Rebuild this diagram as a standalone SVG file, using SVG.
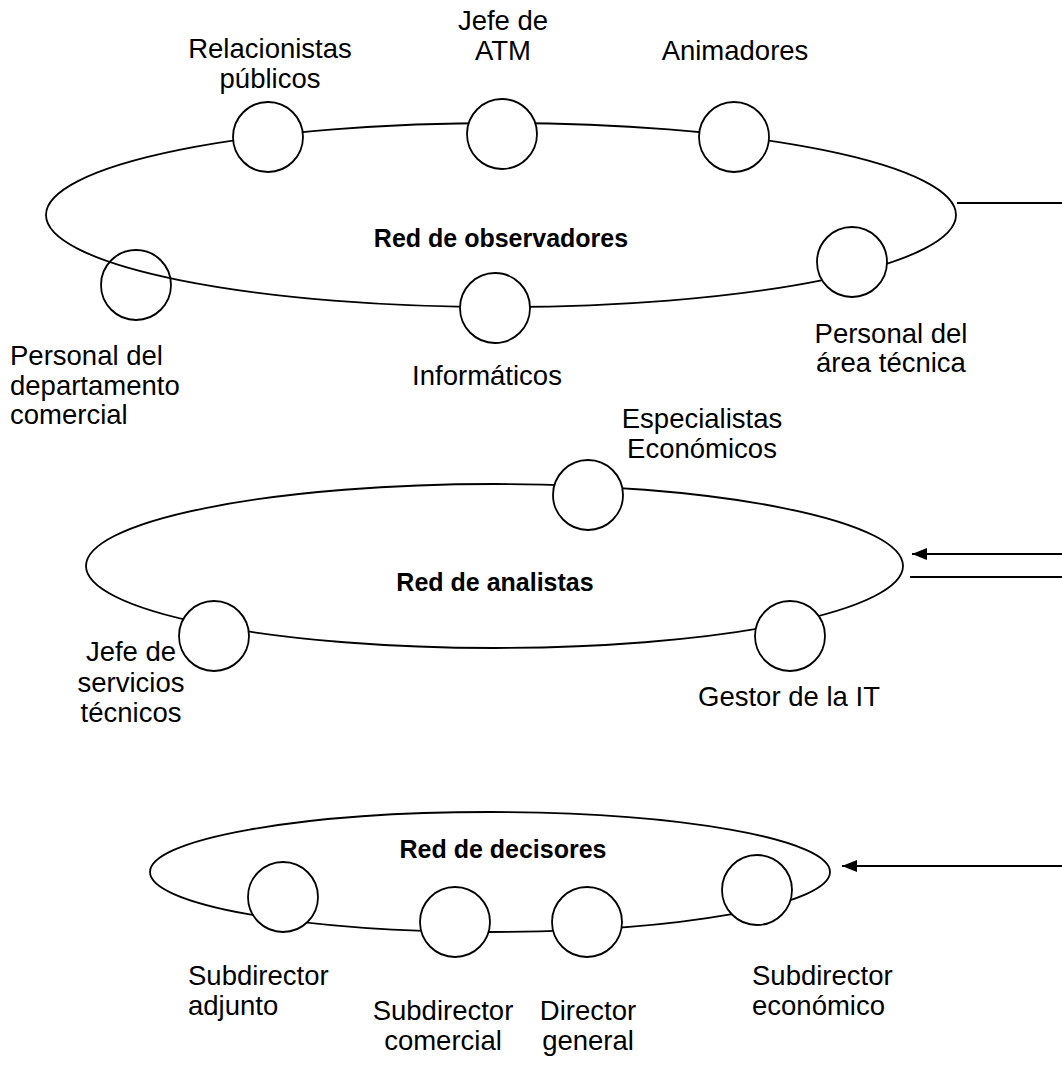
<svg xmlns="http://www.w3.org/2000/svg" width="1062" height="1070" viewBox="0 0 1062 1070">
  <style>
    .ring { fill: none; stroke: #000; stroke-width: 1.8; }
    .node { fill: #fff; stroke: #000; stroke-width: 1.8; }
    .open { fill: none; stroke: #000; stroke-width: 1.8; }
    .lbl { font-family: "Liberation Sans", Arial, sans-serif; font-size: 27.5px; fill: #000; }
    .mid { text-anchor: middle; }
    .title { font-family: "Liberation Sans", Arial, sans-serif; font-size: 25px; font-weight: bold; fill: #000; text-anchor: middle; }
    .link { fill: none; stroke: #000; stroke-width: 1.8; }
  </style>
  <defs>
    <marker id="arrow" viewBox="0 0 15 12" refX="15" refY="6" markerWidth="15" markerHeight="12" markerUnits="userSpaceOnUse" orient="auto">
      <path d="M0,0 L15,6 L0,12 z" fill="#000"/>
    </marker>
  </defs>
  <rect width="1062" height="1070" fill="#fff"/>

  <!-- observer network -->
  <g id="red-observadores">
    <ellipse class="ring" cx="501" cy="215" rx="455" ry="92"/>
    <text class="title" x="501" y="247">Red de observadores</text>
  </g>
  <g id="relacionistas">
    <circle class="node" cx="268" cy="137" r="35"/>
    <text class="lbl mid" x="270" y="58">Relacionistas</text>
    <text class="lbl mid" x="270" y="88">públicos</text>
  </g>
  <g id="jefe-atm">
    <circle class="node" cx="502" cy="134" r="35"/>
    <text class="lbl mid" x="503" y="30">Jefe de</text>
    <text class="lbl mid" x="503" y="60">ATM</text>
  </g>
  <g id="animadores">
    <circle class="node" cx="734" cy="137" r="35"/>
    <text class="lbl mid" x="735" y="60">Animadores</text>
  </g>
  <g id="area-tecnica">
    <circle class="node" cx="852" cy="262" r="35"/>
    <text class="lbl mid" x="891" y="343">Personal del</text>
    <text class="lbl mid" x="891" y="372">área técnica</text>
  </g>
  <g id="informaticos">
    <circle class="node" cx="495" cy="308" r="35"/>
    <text class="lbl mid" x="487" y="385">Informáticos</text>
  </g>
  <g id="dep-comercial">
    <circle class="open" cx="136" cy="285" r="35"/>
    <text class="lbl" x="10" y="365">Personal del</text>
    <text class="lbl" x="10" y="395">departamento</text>
    <text class="lbl" x="10" y="424">comercial</text>
  </g>

  <!-- analyst network -->
  <g id="red-analistas">
    <ellipse class="ring" cx="494.5" cy="566" rx="408.5" ry="82"/>
    <text class="title" x="495" y="591">Red de analistas</text>
  </g>
  <g id="especialistas">
    <circle class="node" cx="588" cy="495" r="35"/>
    <text class="lbl mid" x="702" y="428">Especialistas</text>
    <text class="lbl mid" x="702" y="458">Económicos</text>
  </g>
  <g id="jefe-servicios">
    <circle class="node" cx="214" cy="636" r="35"/>
    <text class="lbl mid" x="131" y="661">Jefe de</text>
    <text class="lbl mid" x="131" y="692">servicios</text>
    <text class="lbl mid" x="131" y="722">técnicos</text>
  </g>
  <g id="gestor-it">
    <circle class="node" cx="790" cy="636" r="35"/>
    <text class="lbl mid" x="789" y="706">Gestor de la IT</text>
  </g>

  <!-- decision network -->
  <g id="red-decisores">
    <ellipse class="ring" cx="490" cy="872" rx="340" ry="60"/>
    <text class="title" x="503" y="858">Red de decisores</text>
  </g>
  <g id="sub-adjunto">
    <circle class="node" cx="283" cy="897" r="35"/>
    <text class="lbl" x="188" y="985">Subdirector</text>
    <text class="lbl" x="188" y="1015">adjunto</text>
  </g>
  <g id="sub-comercial">
    <circle class="node" cx="455" cy="922" r="35"/>
    <text class="lbl mid" x="443" y="1020">Subdirector</text>
    <text class="lbl mid" x="443" y="1050">comercial</text>
  </g>
  <g id="director-general">
    <circle class="node" cx="587" cy="922" r="35"/>
    <text class="lbl mid" x="588" y="1020">Director</text>
    <text class="lbl mid" x="588" y="1050">general</text>
  </g>
  <g id="sub-economico">
    <circle class="node" cx="757" cy="890" r="35"/>
    <text class="lbl" x="752" y="985">Subdirector</text>
    <text class="lbl" x="752" y="1015">económico</text>
  </g>

  <!-- connectors leaving to the right margin -->
  <g id="connectors">
    <line class="link" x1="957" y1="203" x2="1062" y2="203"/>
    <line class="link" x1="1062" y1="554" x2="912" y2="554" marker-end="url(#arrow)"/>
    <line class="link" x1="910" y1="577" x2="1062" y2="577"/>
    <line class="link" x1="1062" y1="866" x2="842" y2="866" marker-end="url(#arrow)"/>
  </g>
</svg>
